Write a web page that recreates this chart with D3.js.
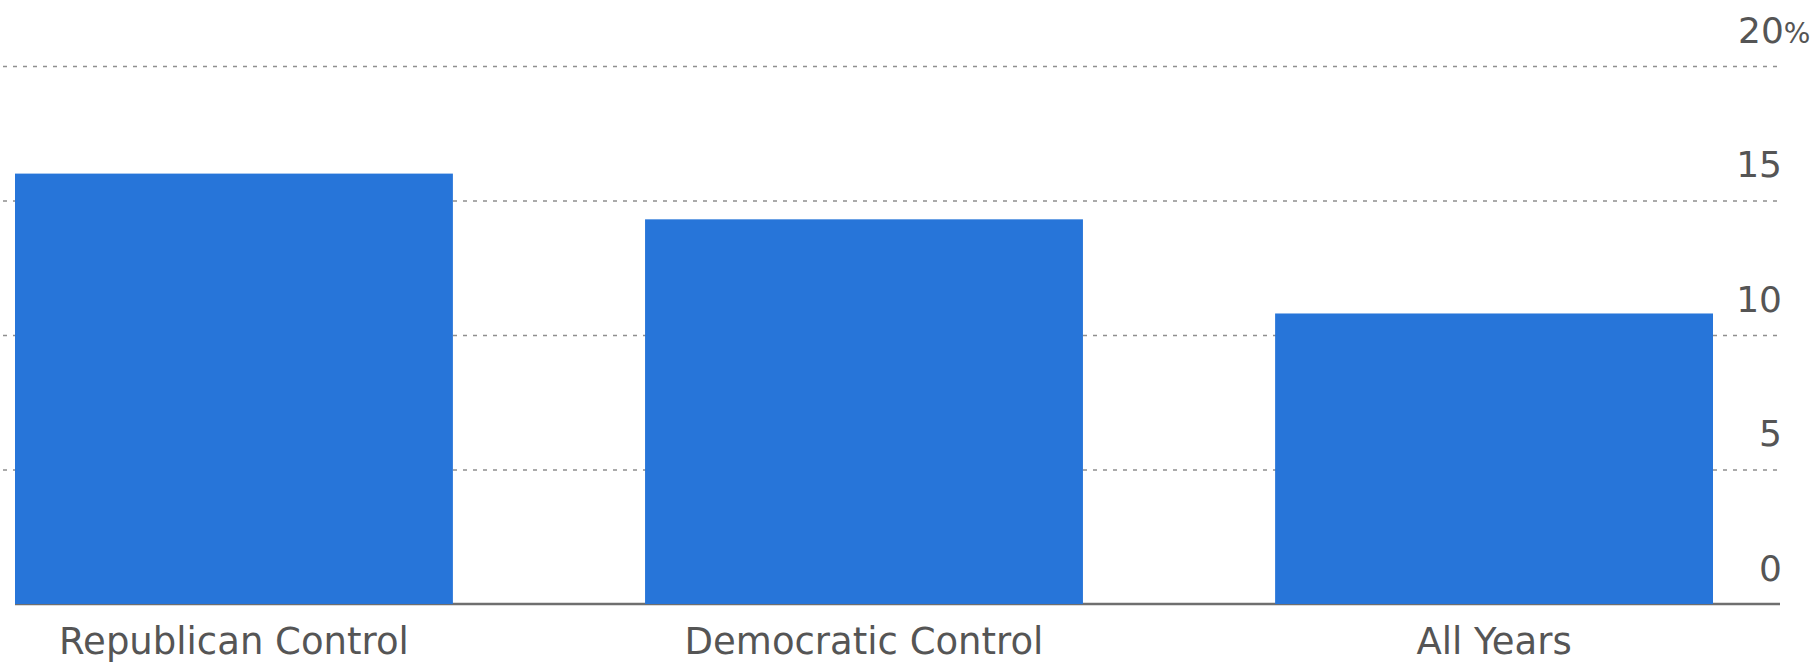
<!DOCTYPE html>
<html>
<head>
<meta charset="utf-8">
<script src="https://cdn.jsdelivr.net/npm/d3@7/dist/d3.min.js"></script>
<style>
  html, body { margin: 0; padding: 0; background: #fff; }
  svg { display: block; }
</style>
</head>
<body>
<div id="container"></div>
<script>
// categories + values (percent)
var categories = ["Republican Control", "Democratic Control", "All Years"];
var values = [16.0, 14.3, 10.8];
var tickValues = [0, 5, 10, 15, 20];

var width = 1816, height = 664;

var svgContainer = d3.select("#container").append("svg")
  .attr("width", width)
  .attr("height", height);

var x = d3.scaleBand()
  .domain(categories)
  .range([15, 1713])
  .paddingInner(0.305)
  .paddingOuter(0);

var y = d3.scaleLinear()
  .domain([0, 20])
  .range([604, 66]);

// dotted gridlines + labels at right
var grid = svgContainer.append("g")
  .attr("transform", "translate(3,0)")
  .call(d3.axisRight(y).tickValues(tickValues).tickSize(1777).tickFormat(""));
grid.select(".domain").remove();
grid.selectAll(".tick line")
  .attr("stroke", "#8f8f8f")
  .attr("stroke-width", 1.6)
  .attr("stroke-dasharray", "4,6")
  .filter(function(d){ return d === 0; }).remove();

var labels = svgContainer.append("g")
  .selectAll("text")
  .data(tickValues)
  .enter()
  .append("text")
  .attr("x", 1782)
  .attr("y", function(d){ return y(d) - 23.5; })
  .attr("text-anchor", "end")
  .style("font-family", "'DejaVu Sans', sans-serif")
  .style("font-size", "36px")
  .style("fill", "#555")
  .text(function(d){ return d; });

// the % on the top label hangs past the numbers
labels.filter(function(d){ return d === 20; })
  .attr("text-anchor", "start")
  .attr("x", 1782 - 44)
  .text("20")
  .append("tspan")
  .style("font-size", "28px")
  .text("%");

// baseline
svgContainer.append("line")
  .attr("x1", 15).attr("x2", 1780)
  .attr("y1", y(0)).attr("y2", y(0))
  .attr("stroke", "#6f6f6f")
  .attr("stroke-width", 2.5);

var bars = svgContainer.selectAll("rect.bar")
  .data(values)
  .enter()
  .append("rect")
  .attr("class", "bar")
  .attr("x", function(d, i){ return x(categories[i]); })
  .attr("y", function(d){ return y(d); })
  .attr("width", x.bandwidth())
  .attr("height", function(d){ return y(0) - y(d); })
  .style("fill", "#2775d9");

var xAxis = svgContainer.append("g")
  .attr("transform", "translate(0," + y(0) + ")")
  .call(d3.axisBottom(x).tickSize(0).tickPadding(0));
xAxis.select(".domain").remove();
xAxis.selectAll("text")
  .attr("y", 50)
  .attr("dy", "0")
  .style("font-family", "'DejaVu Sans', sans-serif")
  .style("font-size", "37px")
  .style("fill", "#555");
</script>
</body>
</html>
